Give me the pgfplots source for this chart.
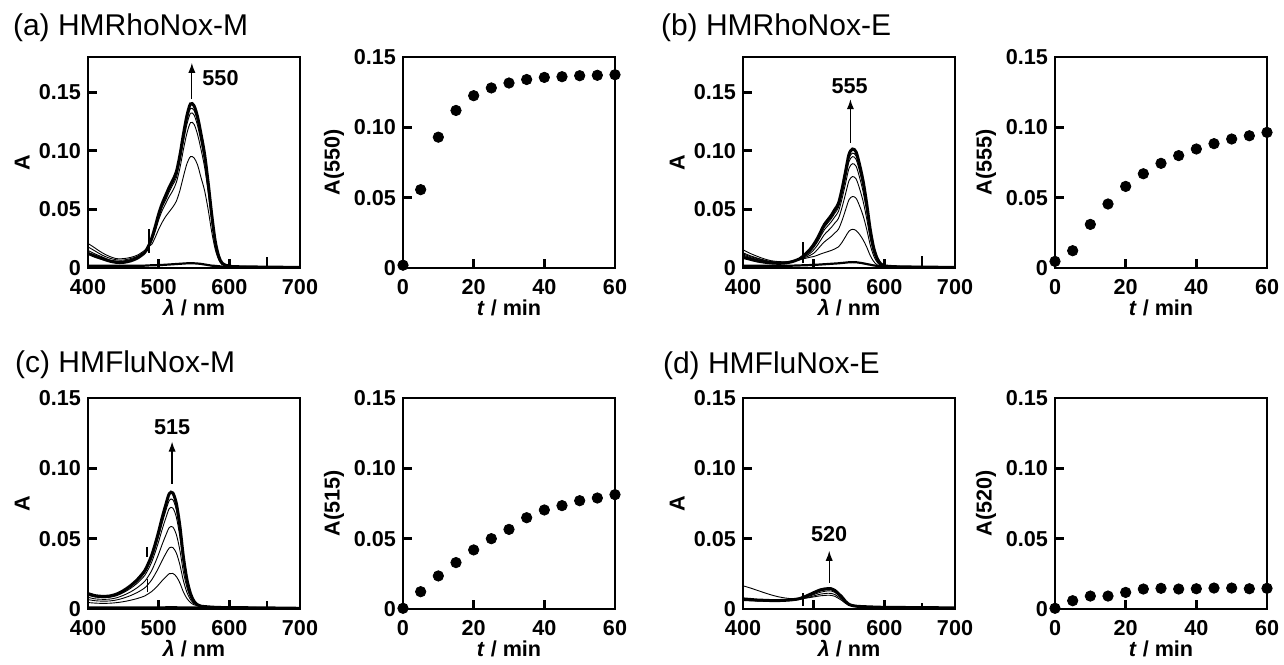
\documentclass[border=0pt]{standalone}
\usepackage{fontspec}
\setmainfont{Liberation Sans}
\usepackage{pgfplots}
\usepackage{pgfplotstable}
\pgfplotsset{compat=1.18}
\usetikzlibrary{arrows.meta}

% spectra, panel (a): c0 = start, c5 = last (thick)
\pgfplotstableread{
wl  c0     c1     c2     c3     c4     c5
400 0.002  0.021  0.018  0.015  0.013  0.0125
410 0.002  0.017  0.0145 0.012  0.011  0.010
420 0.002  0.013  0.011  0.0095 0.0085 0.008
430 0.002  0.010  0.0085 0.007  0.0062 0.006
440 0.002  0.008  0.007  0.006  0.0052 0.0048
450 0.002  0.008  0.0068 0.006  0.0052 0.0048
460 0.002  0.009  0.008  0.0072 0.0066 0.006
470 0.002  0.011  0.010  0.0095 0.009  0.0085
480 0.002  0.015  0.014  0.0135 0.013  0.013
485 0.0022 0.018  0.018  0.018  0.018  0.018
490 0.0023 0.020  0.023  0.024  0.0245 0.025
495 0.0024 0.026  0.031  0.033  0.034  0.035
500 0.0025 0.033  0.041  0.043  0.0447 0.046
505 0.0026 0.039  0.049  0.052  0.0534 0.055
510 0.0028 0.044  0.055  0.058  0.060  0.062
515 0.003  0.048  0.061  0.065  0.067  0.069
520 0.0032 0.052  0.066  0.071  0.0728 0.075
525 0.0034 0.057  0.073  0.077  0.0796 0.082
530 0.0036 0.066  0.085  0.091  0.0932 0.096
535 0.0038 0.078  0.101  0.1075 0.1107 0.114
540 0.004  0.089  0.115  0.1226 0.1262 0.130
545 0.004  0.095  0.124  0.132  0.136  0.140
550 0.004  0.094  0.1227 0.1306 0.1345 0.1385
555 0.0038 0.088  0.114  0.1216 0.1253 0.129
560 0.0035 0.077  0.101  0.1075 0.1107 0.114
565 0.003  0.066  0.086  0.0915 0.0942 0.097
570 0.0025 0.050  0.065  0.069  0.0709 0.073
575 0.002  0.031  0.041  0.043  0.0447 0.046
580 0.0018 0.016  0.020  0.0217 0.0223 0.023
585 0.0015 0.007  0.009  0.0094 0.0097 0.010
590 0.0012 0.003  0.0035 0.0038 0.0039 0.004
600 0.001  0.001  0.0013 0.0014 0.0015 0.0015
620 0.0008 0.0008 0.001  0.001  0.001  0.001
650 0.0006 0.0006 0.0008 0.0008 0.0008 0.0008
700 0.0004 0.0004 0.0005 0.0005 0.0005 0.0005
}\specA

% spectra, panel (b)
\pgfplotstableread{
wl  c0     c1     c2     c3     c4     c5     c6     c7
400 0.002  0.0155 0.013  0.012  0.011  0.010  0.0095 0.009
410 0.002  0.0125 0.0105 0.0098 0.009  0.0083 0.0079 0.0075
420 0.002  0.010  0.0085 0.008  0.0073 0.0067 0.0063 0.006
430 0.002  0.0078 0.0068 0.0064 0.0059 0.0055 0.0052 0.005
440 0.002  0.0062 0.0055 0.0052 0.0049 0.0046 0.0044 0.0043
450 0.002  0.0055 0.005  0.0047 0.0045 0.0042 0.0041 0.004
460 0.002  0.0053 0.005  0.0048 0.0046 0.0044 0.0043 0.0043
470 0.002  0.0058 0.0057 0.0056 0.0055 0.0055 0.0055 0.0055
480 0.0022 0.007  0.0072 0.0074 0.0076 0.0077 0.0078 0.0078
485 0.0023 0.0078 0.0085 0.009  0.0095 0.0097 0.0099 0.010
490 0.0024 0.0085 0.0095 0.0105 0.0114 0.0122 0.0126 0.013
495 0.0025 0.0092 0.0108 0.0125 0.014  0.015  0.0155 0.016
500 0.0026 0.0098 0.0125 0.0154 0.0175 0.0187 0.0193 0.020
505 0.0028 0.0108 0.0155 0.0192 0.0219 0.0234 0.0242 0.025
510 0.003  0.012  0.019  0.0238 0.0272 0.029  0.030  0.031
515 0.0032 0.013  0.0222 0.0284 0.0325 0.0346 0.0357 0.037
520 0.0034 0.014  0.0246 0.0315 0.036  0.0384 0.0396 0.041
525 0.0036 0.015  0.027  0.0346 0.0395 0.0421 0.0435 0.045
530 0.0038 0.0163 0.030  0.0384 0.0438 0.0468 0.0483 0.050
535 0.004  0.018  0.033  0.0422 0.0482 0.0515 0.0531 0.055
540 0.0043 0.0218 0.0403 0.0515 0.0588 0.0627 0.0647 0.067
545 0.0046 0.0267 0.0493 0.063  0.0719 0.0767 0.0792 0.082
550 0.0049 0.0315 0.0583 0.0745 0.0851 0.0908 0.0937 0.097
555 0.005  0.033  0.061  0.078  0.089  0.095  0.098  0.1015
560 0.0049 0.032  0.0595 0.076  0.0868 0.0927 0.0956 0.099
565 0.0045 0.0286 0.0529 0.0676 0.0772 0.0824 0.085  0.088
570 0.004  0.024  0.0445 0.0568 0.0649 0.0693 0.0715 0.074
575 0.0034 0.0179 0.0331 0.0422 0.0482 0.0515 0.0531 0.055
580 0.0028 0.0107 0.0198 0.0253 0.0289 0.0309 0.0319 0.033
585 0.0022 0.0055 0.0102 0.013  0.0149 0.0159 0.0164 0.017
590 0.0018 0.0026 0.0048 0.0061 0.007  0.0075 0.0077 0.008
595 0.0015 0.0012 0.0021 0.0027 0.0031 0.0033 0.0034 0.0035
600 0.0013 0.0008 0.0011 0.0014 0.0016 0.0017 0.0017 0.0018
620 0.001  0.0006 0.0007 0.0008 0.0009 0.001  0.001  0.001
650 0.0008 0.0005 0.0006 0.0006 0.0007 0.0008 0.0008 0.0008
700 0.0005 0.0003 0.0004 0.0004 0.0005 0.0005 0.0005 0.0005
}\specB

% spectra, panel (c)
\pgfplotstableread{
wl  c0     c1     c2     c3     c4     c5     c6
400 0.001  0.0046 0.0067 0.0083 0.0098 0.0104 0.011
410 0.001  0.0042 0.0059 0.0072 0.0085 0.009  0.0095
420 0.001  0.004  0.0056 0.0069 0.0081 0.0086 0.009
430 0.001  0.0041 0.0057 0.007  0.0083 0.0088 0.0092
440 0.001  0.0045 0.0064 0.0079 0.0094 0.010  0.0105
450 0.001  0.0052 0.0077 0.0097 0.0116 0.0123 0.013
460 0.001  0.0062 0.0095 0.0121 0.0146 0.0156 0.0165
470 0.001  0.0075 0.0118 0.0153 0.0185 0.0198 0.021
480 0.001  0.0092 0.0149 0.0195 0.0237 0.0255 0.027
485 0.001  0.0107 0.0175 0.023  0.028  0.0302 0.032
490 0.001  0.0124 0.0206 0.0272 0.0332 0.0358 0.038
495 0.001  0.0147 0.0248 0.0328 0.0402 0.0433 0.046
500 0.001  0.0173 0.0294 0.0391 0.048  0.0518 0.055
505 0.001  0.0202 0.0346 0.046  0.0567 0.0612 0.065
510 0.0012 0.0228 0.0393 0.0523 0.0645 0.0697 0.074
515 0.0012 0.0251 0.0434 0.0579 0.0714 0.0772 0.082
520 0.0012 0.0253 0.0437 0.0583 0.0718 0.0777 0.0825
525 0.0012 0.0231 0.0398 0.053  0.0653 0.0706 0.075
530 0.0011 0.0185 0.0315 0.0418 0.0514 0.0556 0.059
535 0.001  0.0121 0.0201 0.0264 0.0323 0.0349 0.037
540 0.001  0.0075 0.0118 0.0153 0.0185 0.0198 0.021
545 0.001  0.0046 0.0067 0.0083 0.0098 0.0104 0.011
550 0.001  0.003  0.0038 0.0045 0.0051 0.0053 0.0055
555 0.001  0.0023 0.0025 0.0027 0.0029 0.003  0.003
560 0.001  0.002  0.002  0.002  0.002  0.002  0.002
580 0.001  0.0015 0.0014 0.0013 0.0013 0.0012 0.0012
600 0.0008 0.0012 0.0011 0.0011 0.001  0.001  0.001
650 0.0006 0.0009 0.0009 0.0008 0.0008 0.0008 0.0008
700 0.0004 0.0006 0.0006 0.0005 0.0005 0.0005 0.0005
}\specC

% spectra, panel (d)
\pgfplotstableread{
wl  c0     c1     c2     c3     c4
400 0.0165 0.0060 0.0065 0.0068 0.0072
410 0.0150 0.0058 0.0062 0.0065 0.0068
420 0.0133 0.0056 0.0060 0.0062 0.0064
430 0.0116 0.0055 0.0058 0.0060 0.0062
440 0.0100 0.0055 0.0057 0.0059 0.0060
450 0.0087 0.0056 0.0058 0.0059 0.0060
460 0.0078 0.0058 0.0060 0.0061 0.0062
470 0.0073 0.0062 0.0064 0.0065 0.0066
480 0.0073 0.0068 0.0070 0.0072 0.0074
490 0.0078 0.0080 0.0085 0.0090 0.0093
500 0.0086 0.0093 0.0102 0.0110 0.0116
510 0.0094 0.0106 0.0120 0.0130 0.0137
520 0.0098 0.0112 0.0129 0.0138 0.0145
525 0.0097 0.0111 0.0128 0.0137 0.0144
530 0.0090 0.0103 0.0118 0.0126 0.0132
540 0.0060 0.0068 0.0076 0.0081 0.0085
545 0.0040 0.0045 0.0050 0.0052 0.0054
550 0.0026 0.0028 0.0030 0.0031 0.0032
560 0.0018 0.0019 0.0020 0.0020 0.0020
580 0.0014 0.0014 0.0015 0.0015 0.0015
600 0.0012 0.0012 0.0012 0.0012 0.0012
650 0.0010 0.0010 0.0010 0.0010 0.0010
700 0.0008 0.0008 0.0008 0.0008 0.0008
}\specD

\newcommand{\lab}{\fontsize{10.8}{12.5}\selectfont\bfseries}
\newcommand{\ttl}{\fontsize{15}{18}\selectfont}
\pgfplotsset{
  panel/.style={
    scale only axis, width=106pt, height=105.5pt,
    axis line style={line width=1.4pt},
    tick align=inside, xtick pos=left, ytick pos=left,
    major tick length=4.5pt,
    every tick/.style={black, line width=1.4pt},
    tick label style={font=\lab},
    xticklabel style={yshift=-2pt},
    /pgf/number format/assume math mode=true,
    every axis x label/.style={at={(axis description cs:0.5,-0.19)}, anchor=center, font=\lab},
    every axis y label/.style={at={(axis description cs:-0.31,0.5)}, anchor=center, rotate=90, font=\lab},
  },
  spec/.style={panel, xmin=400, xmax=700, ymin=0,
    xtick={400,500,600,700}, ytick={0,0.05,0.1,0.15},
    yticklabels={\raisebox{-4pt}{0},0.05,0.10,0.15},
    xlabel={\textit{λ} / nm}, ylabel={A}},
  kin/.style={panel, xmin=0, xmax=60, ymin=0, ymax=0.15,
    xtick={0,20,40,60}, ytick={0,0.05,0.1,0.15},
    yticklabels={0,0.05,0.10,0.15},
    xlabel={\textit{t} / min},
    every axis y label/.style={at={(axis description cs:-0.325,0.5)}, anchor=center, rotate=90, font=\lab}},
  thinl/.style={black, line width=0.45pt, smooth, no marks},
  thickl/.style={black, line width=1.5pt, smooth, no marks},
  spike/.style={black, line width=0.9pt, no marks},
  dots/.style={black, only marks, mark=*, mark size=2.6pt},
}
\tikzset{arr/.style={-{Latex[length=5pt,width=3.6pt]}, line width=0.6pt}}

\begin{document}
\begin{tikzpicture}
\useasboundingbox (0,0) rectangle (642pt,-332pt);

\node[anchor=base west, font=\ttl] at (3pt,-17.5pt) {(a) HMRhoNox-M};
\node[anchor=base west, font=\ttl] at (327pt,-17.5pt) {(b) HMRhoNox-E};
\node[anchor=base west, font=\ttl] at (4pt,-186pt) {(c) HMFluNox-M};
\node[anchor=base west, font=\ttl] at (328pt,-186.5pt) {(d) HMFluNox-E};

% (a) spectra
\begin{axis}[spec, ymax=0.18, at={(44pt,-28.5pt)}, anchor=north west]
\addplot[thinl] table[x=wl,y=c1]{\specA};
\addplot[thinl] table[x=wl,y=c2]{\specA};
\addplot[thinl] table[x=wl,y=c3]{\specA};
\addplot[thinl] table[x=wl,y=c4]{\specA};
\addplot[thickl] table[x=wl,y=c5]{\specA};
\addplot[thickl, line width=1.1pt] table[x=wl,y=c0]{\specA};
\addplot[spike] coordinates {(486,0.013) (486,0.033)};
\addplot[spike] coordinates {(653,0) (653,0.0095)};
\draw[arr] (axis cs:547,0.144) -- (axis cs:547,0.175);
\node[anchor=west, font=\lab] at (axis cs:552,0.162) {550};
\end{axis}

% (a) kinetics
\begin{axis}[kin, at={(201.5pt,-28.5pt)}, anchor=north west, ylabel={A(550)}]
\addplot[dots] coordinates {(0,0.002) (5,0.0557) (10,0.093) (15,0.112) (20,0.1225) (25,0.128) (30,0.1315) (35,0.134) (40,0.1355) (45,0.136) (50,0.1367) (55,0.137) (60,0.1374)};
\end{axis}

% (b) spectra
\begin{axis}[spec, ymax=0.18, at={(371.5pt,-28.5pt)}, anchor=north west]
\addplot[thinl] table[x=wl,y=c1]{\specB};
\addplot[thinl] table[x=wl,y=c2]{\specB};
\addplot[thinl] table[x=wl,y=c3]{\specB};
\addplot[thinl] table[x=wl,y=c4]{\specB};
\addplot[thinl] table[x=wl,y=c5]{\specB};
\addplot[thinl] table[x=wl,y=c6]{\specB};
\addplot[thickl] table[x=wl,y=c7]{\specB};
\addplot[thickl, line width=1.1pt] table[x=wl,y=c0]{\specB};
\addplot[spike] coordinates {(485,0.004) (485,0.0226)};
\addplot[spike] coordinates {(653,0.001) (653,0.0103)};
\draw[arr] (axis cs:552,0.107) -- (axis cs:552,0.144);
\node[font=\lab] at (axis cs:551,0.155) {555};
\end{axis}

% (b) kinetics
\begin{axis}[kin, at={(527.5pt,-28.5pt)}, anchor=north west, ylabel={A(555)}]
\addplot[dots] coordinates {(0,0.0047) (5,0.0123) (10,0.031) (15,0.0455) (20,0.058) (25,0.067) (30,0.0744) (35,0.0799) (40,0.0846) (45,0.0884) (50,0.0917) (55,0.094) (60,0.0964)};
\end{axis}

% (c) spectra
\begin{axis}[spec, ymax=0.15, at={(44pt,-199pt)}, anchor=north west]
\addplot[thinl] table[x=wl,y=c1]{\specC};
\addplot[thinl] table[x=wl,y=c2]{\specC};
\addplot[thinl] table[x=wl,y=c3]{\specC};
\addplot[thinl] table[x=wl,y=c4]{\specC};
\addplot[thinl] table[x=wl,y=c5]{\specC};
\addplot[thickl] table[x=wl,y=c6]{\specC};
\addplot[thickl, line width=1.1pt] table[x=wl,y=c0]{\specC};
\addplot[spike] coordinates {(484,0.037) (484,0.044)};
\addplot[spike, line width=0.5pt] coordinates {(484,0.012) (484,0.021)};
\addplot[spike] coordinates {(653,0) (653,0.006)};
\draw[arr] (axis cs:519,0.089) -- (axis cs:519,0.119);
\node[font=\lab] at (axis cs:519,0.1295) {515};
\end{axis}

% (c) kinetics
\begin{axis}[kin, at={(201.5pt,-199pt)}, anchor=north west, ylabel={A(515)}]
\addplot[dots] coordinates {(0,0.0005) (5,0.0123) (10,0.0235) (15,0.033) (20,0.042) (25,0.050) (30,0.0566) (35,0.0649) (40,0.0704) (45,0.0735) (50,0.077) (55,0.0789) (60,0.0813)};
\end{axis}

% (d) spectra
\begin{axis}[spec, ymax=0.15, at={(371.5pt,-199pt)}, anchor=north west]
\addplot[thinl] table[x=wl,y=c0]{\specD};
\addplot[thinl] table[x=wl,y=c1]{\specD};
\addplot[thinl] table[x=wl,y=c2]{\specD};
\addplot[thinl] table[x=wl,y=c3]{\specD};
\addplot[thickl] table[x=wl,y=c4]{\specD};
\addplot[spike] coordinates {(485,0.002) (485,0.0117)};
\addplot[spike] coordinates {(653,0) (653,0.004)};
\draw[arr] (axis cs:522,0.0188) -- (axis cs:522,0.0414);
\node[font=\lab] at (axis cs:522,0.053) {520};
\end{axis}

% (d) kinetics
\begin{axis}[kin, at={(527.5pt,-199pt)}, anchor=north west, ylabel={A(520)}]
\addplot[dots] coordinates {(0,0.0005) (5,0.0059) (10,0.0092) (15,0.0092) (20,0.0118) (25,0.0142) (30,0.0147) (35,0.0142) (40,0.0144) (45,0.0149) (50,0.0149) (55,0.0144) (60,0.0147)};
\end{axis}
\end{tikzpicture}
\end{document}
